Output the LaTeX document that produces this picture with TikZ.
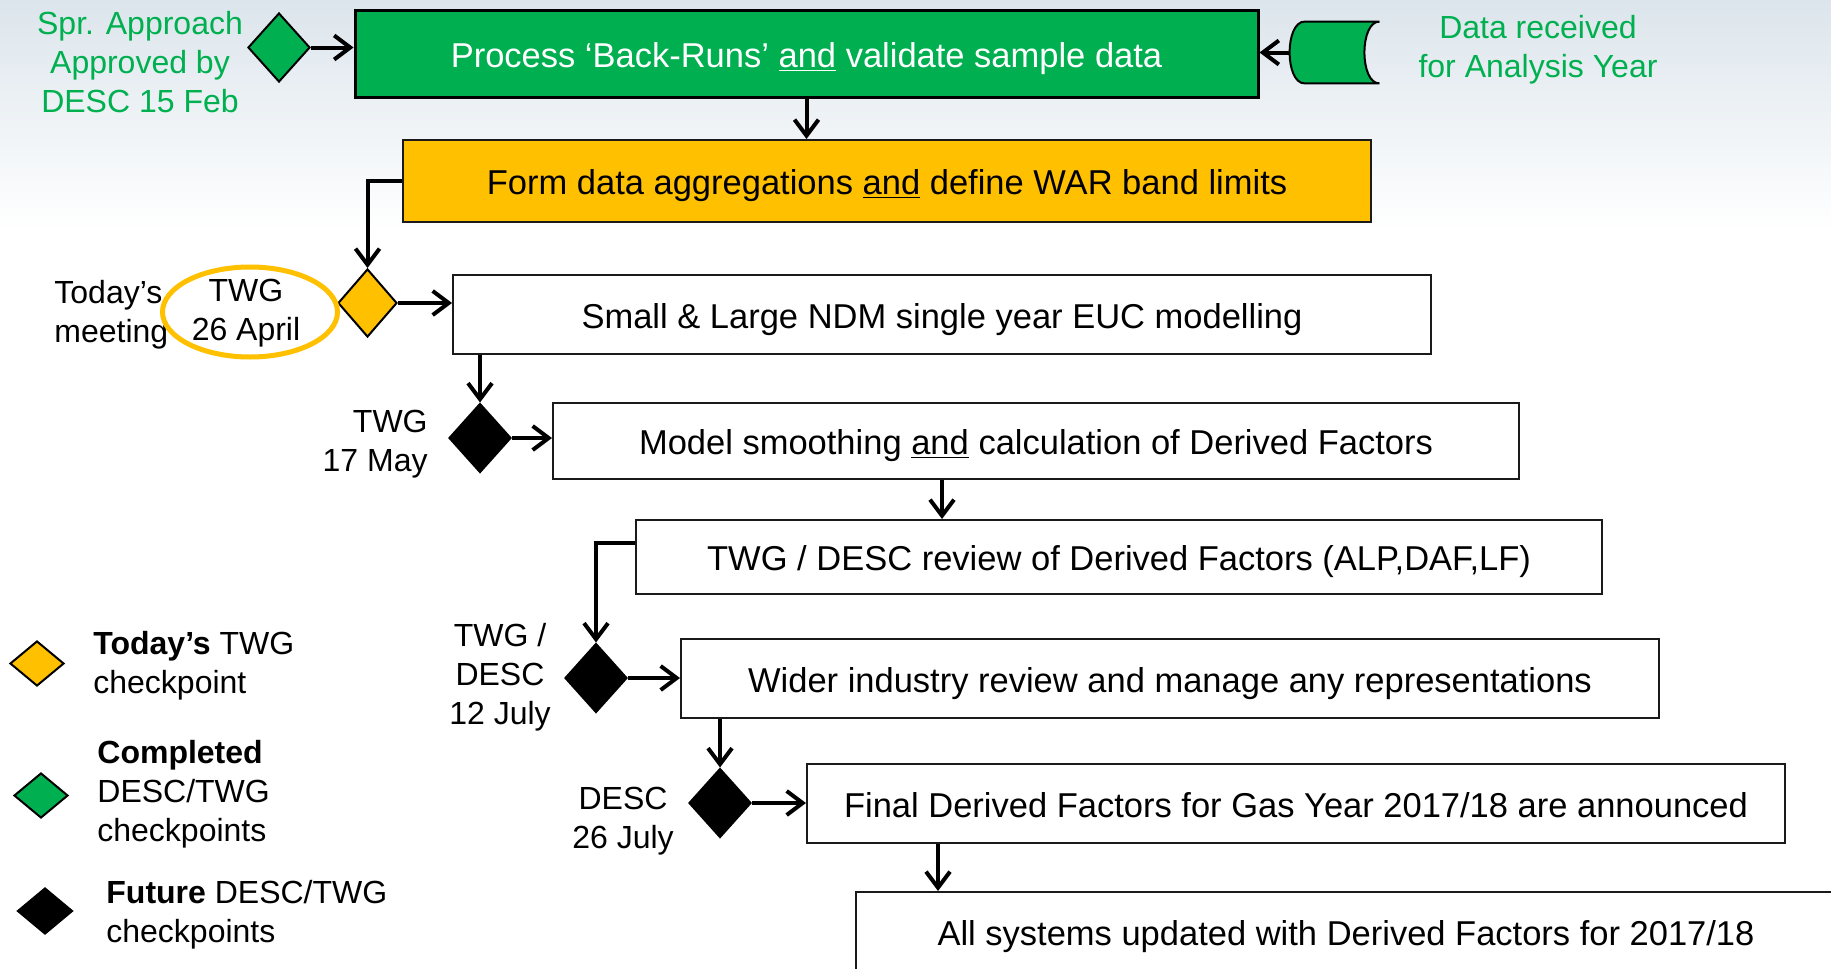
\documentclass[tikz,border=0pt]{standalone}
\usepackage{fontspec}
\setmainfont{Liberation Sans}
\usepackage{xcolor}
\definecolor{accentGreen}{HTML}{00B050}
\definecolor{accentGold}{HTML}{FFC000}
\definecolor{bgTop}{HTML}{DCE5EC}
\definecolor{borderDark}{HTML}{1A1A1A}
\usepackage{tikz}
\usetikzlibrary{arrows.meta, shapes.geometric, positioning}
\newcommand{\boxFont}{\fontsize{17.25}{20}\selectfont}
\newcommand{\labelFont}{\fontsize{16}{19.5}\selectfont}

\tikzset{
  stageBox/.style={draw=borderDark, line width=1pt, fill=white, font=\boxFont, inner sep=0pt,
                   text height=17pt, text depth=3.5pt},
  checkDia/.style={diamond, draw=black, line width=1pt, inner sep=0pt,
                   minimum width=31pt, minimum height=34.5pt},
  legendDia/.style={checkDia, minimum width=27pt, minimum height=22.5pt},
  flowArrow/.style={line width=2pt, -{Straight Barb[length=8pt, width=12pt]}},
  sideLabel/.style={font=\labelFont, inner sep=0pt},
}

\begin{document}
\begin{tikzpicture}[x=0.5pt, y=-0.5pt]
  \useasboundingbox (0,0) rectangle (1831,969);
  \fill[white] (0,0) rectangle (1831,969);
  \fill[top color=bgTop, bottom color=white] (0,0) rectangle (1831,230);

  % main flow
  \node[stageBox, fill=accentGreen, draw=black, line width=1.5pt, text=white,
        minimum width=451.5pt, minimum height=43.5pt] (process) at (806.5,53.5)
        {Process ‘Back-Runs’ \underline{and} validate sample data};
  \node[stageBox, fill=accentGold, minimum width=484pt, minimum height=41pt] (aggr) at (887,181)
        {Form data aggregations \underline{and} define WAR band limits};
  \node[stageBox, minimum width=489pt, minimum height=39.5pt] (euc) at (942,314.5)
        {Small \& Large NDM single year EUC modelling};
  \node[stageBox, minimum width=483pt, minimum height=38pt] (smooth) at (1036,441)
        {Model smoothing \underline{and} calculation of Derived Factors};
  \node[stageBox, minimum width=483pt, minimum height=37pt] (review) at (1119,557)
        {TWG / DESC review of Derived Factors (ALP,DAF,LF)};
  \node[stageBox, minimum width=489pt, minimum height=39.5pt] (wider) at (1170,678.5)
        {Wider industry review and manage any representations};
  \node[stageBox, minimum width=489pt, minimum height=39.5pt] (final) at (1296,803.5)
        {Final Derived Factors for Gas Year 2017/18 are announced};
  \node[stageBox, minimum width=490pt, minimum height=40pt] (allsys) at (1346,932)
        {All systems updated with Derived Factors for 2017/18};

  % data store
  \node[minimum width=44.5pt, minimum height=30.5pt, inner sep=0pt] (dataIn) at (1334.5,52.5) {};
  \draw[fill=accentGreen, line width=1pt]
    ([xshift=7.5pt]dataIn.north west) -- (dataIn.north east)
    .. controls ([xshift=-10pt]dataIn.north east) and ([xshift=-10pt]dataIn.south east) .. (dataIn.south east)
    -- ([xshift=7.5pt]dataIn.south west)
    .. controls ([xshift=-2.5pt]dataIn.south west) and ([xshift=-2.5pt]dataIn.north west) .. cycle;

  % checkpoints
  \node[checkDia, fill=accentGreen] (apprDia) at (279,47.5) {};
  \node[checkDia, fill=accentGold, minimum width=29.5pt, minimum height=34pt] (todayDia) at (367.5,303) {};
  \node[checkDia, fill=black] (twgMay) at (480,438) {};
  \node[checkDia, fill=black] (twgJul) at (596,678) {};
  \node[checkDia, fill=black] (descJul) at (720,803) {};

  % labels
  \node[sideLabel, text=accentGreen, align=center] (apprNote) at (140,62)
        {Spr. Approach\\Approved by\\DESC 15 Feb};
  \node[sideLabel, text=accentGreen, align=center] (dataNote) at (1538,50)
        {Data received\\for Analysis Year};
  \node[sideLabel, align=left, anchor=west] (meetNote) at (54,315) {Today’s\\meeting};
  \node[ellipse, draw=accentGold, line width=2.5pt, minimum width=87.5pt, minimum height=45pt]
        (todayRing) at (250,312) {};
  \node[sideLabel, align=center] (twgApr) at (246,313) {TWG\\26 April};
  \node[sideLabel, align=right, anchor=east] (mayNote) at (428,444) {TWG\\17 May};
  \node[sideLabel, align=center] (julNote) at (500,677) {TWG /\\DESC\\12 July};
  \node[sideLabel, align=center] (descNote) at (623,821) {DESC\\26 July};

  % connectors
  \draw[flowArrow] (apprDia.east) -- (apprDia.east -| process.west);
  \draw[flowArrow] (dataIn.west) -- (dataIn.west -| process.east);
  \draw[flowArrow] (process.south) -- (process.south |- aggr.north);
  \draw[flowArrow] (aggr.west) -| (todayDia.north);
  \draw[flowArrow] (todayDia.east) -- (todayDia.east -| euc.west);
  \draw[flowArrow] (twgMay.north |- euc.south) -- (twgMay.north);
  \draw[flowArrow] (twgMay.east) -- (twgMay.east -| smooth.west);
  \draw[flowArrow] ([xshift=-47pt]smooth.south) -- ([xshift=-47pt]smooth.south |- review.north);
  \draw[flowArrow] ([yshift=7pt]review.west) -| (twgJul.north);
  \draw[flowArrow] (twgJul.east) -- (twgJul.east -| wider.west);
  \draw[flowArrow] (descJul.north |- wider.south) -- (descJul.north);
  \draw[flowArrow] (descJul.east) -- (descJul.east -| final.west);
  \draw[flowArrow] ([xshift=-179pt]final.south) -- ([xshift=-179pt]final.south |- allsys.north);

  % legend
  \node[legendDia, fill=accentGold] (legToday) at (37,663.5) {};
  \node[legendDia, fill=accentGreen] (legDone) at (41,795.5) {};
  \node[legendDia, fill=black, minimum width=27.5pt, minimum height=23pt] (legFuture) at (45,911) {};
  \node[sideLabel, align=left, anchor=west] (legTodayTxt) at (93,666)
        {{\bfseries Today’s} TWG\\checkpoint};
  \node[sideLabel, align=left, anchor=west] (legDoneTxt) at (97,794)
        {{\bfseries Completed}\\DESC/TWG\\checkpoints};
  \node[sideLabel, align=left, anchor=west] (legFutureTxt) at (106,915)
        {{\bfseries Future} DESC/TWG\\checkpoints};
\end{tikzpicture}
\end{document}
